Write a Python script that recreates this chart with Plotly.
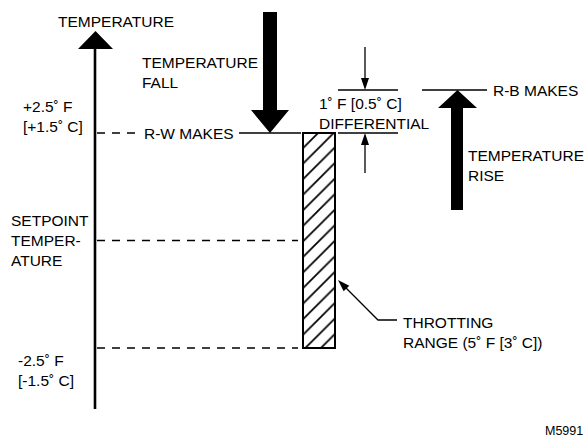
import math
import plotly.graph_objects as go

# ---- data (degrees F relative to setpoint) ----
setpoint_f = 0.0
throttling_range_f = 5.0          # 5 F [3 C]
differential_f = 1.0              # 1 F [0.5 C]
level_values = [2.5, 0.0, -2.5]   # +2.5 F, setpoint, -2.5 F
level_labels = ["+2.5˚ F<br>[+1.5˚ C]", "SETPOINT<br>TEMPER-<br>ATURE", "-2.5˚ F<br>[-1.5˚ C]"]

upper_f = setpoint_f + throttling_range_f / 2     # R-W makes
lower_f = setpoint_f - throttling_range_f / 2
rb_f = upper_f + differential_f                   # R-B makes

# ---- layout helpers ----
W, H = 587, 438
PX_PER_F = 43.0
Y0_PX = 240.5
def fy(px):
    return (Y0_PX - px) / PX_PER_F
def px_of(f):
    return Y0_PX - f * PX_PER_F

FONT = "Liberation Sans, Arial, Helvetica, sans-serif"
FS = 15.5
BLACK = "#000000"

fig = go.Figure()

# throttling range bar (hatched)
fig.add_trace(go.Bar(
    x=[319], y=[throttling_range_f], base=[lower_f], width=[32],
    marker=dict(color="white", line=dict(color=BLACK, width=2),
                pattern=dict(shape="/", fgcolor=BLACK, bgcolor="white", fgopacity=1,
                             size=11, solidity=0.16)),
    hoverinfo="skip"))

dash = "8px,7px"
# dashed level lines
dash_ends = [135, 298, 298]
for lvl, xe in zip(level_values, dash_ends):
    fig.add_trace(go.Scatter(x=[97, xe], y=[lvl, lvl], mode="lines",
                             line=dict(color=BLACK, width=1.4, dash=dash), hoverinfo="skip"))

# solid make lines
solid_segments = [((239, 301), upper_f), ((338, 398), upper_f), ((338, 398), rb_f), ((422, 487), rb_f)]
for (x0, x1), lvl in solid_segments:
    fig.add_trace(go.Scatter(x=[x0, x1], y=[lvl, lvl], mode="lines",
                             line=dict(color=BLACK, width=1.6), hoverinfo="skip"))

shapes = []
def path(pts, fill=True, width=1.0):
    d = "M " + " L ".join(f"{x},{y}" for x, y in pts) + (" Z" if fill else "")
    return dict(type="path", path=d, xref="x", yref="y",
                fillcolor=BLACK if fill else None,
                line=dict(color=BLACK, width=width if not fill else 0))

# vertical temperature axis
shapes.append(dict(type="line", xref="x", yref="y", x0=95, x1=95, y0=fy(409), y1=fy(48),
                   line=dict(color=BLACK, width=2.6)))
shapes.append(path([(78, fy(49)), (113, fy(49)), (95.5, fy(31))]))

# temperature fall arrow
tip_y = px_of(upper_f)
shapes.append(path([(263, fy(12)), (277, fy(12)), (277, fy(110)), (289, fy(110)),
                    (270, fy(tip_y)), (251, fy(110)), (263, fy(110))]))
# temperature rise arrow
tip_y = px_of(rb_f)
shapes.append(path([(451, fy(210)), (463, fy(210)), (463, fy(108)), (477, fy(108)),
                    (457.5, fy(tip_y)), (438, fy(108)), (451, fy(108))]))

# small differential arrows
top_px, bot_px = px_of(rb_f), px_of(upper_f)
shapes.append(dict(type="line", xref="x", yref="y", x0=365, x1=365, y0=fy(47), y1=fy(top_px - 10),
                   line=dict(color=BLACK, width=1.3)))
shapes.append(path([(361, fy(top_px - 12)), (369, fy(top_px - 12)), (365, fy(top_px))]))
shapes.append(dict(type="line", xref="x", yref="y", x0=365, x1=365, y0=fy(173), y1=fy(bot_px + 10),
                   line=dict(color=BLACK, width=1.3)))
shapes.append(path([(361, fy(bot_px + 12)), (369, fy(bot_px + 12)), (365, fy(bot_px))]))

# throttling range pointer
tip = (338, 280)
elbow = (378, 320)
end = (397, 320)
dx, dy = elbow[0] - tip[0], elbow[1] - tip[1]
L = math.hypot(dx, dy)
ux, uy = dx / L, dy / L
bx, by = tip[0] + 12 * ux, tip[1] + 12 * uy
shapes.append(path([(bx - 7 * ux, fy(by - 7 * uy)), (elbow[0], fy(elbow[1])), (end[0], fy(end[1]))],
                   fill=False, width=1.3))
shapes.append(path([(tip[0], fy(tip[1])), (bx - 4 * uy, fy(by + 4 * ux)), (bx + 4 * uy, fy(by - 4 * ux))]))

annotations = []
def label(text, x, ypx, xanchor="left", size=FS, align="left"):
    annotations.append(dict(text=text, x=x, y=fy(ypx), xref="x", yref="y", showarrow=False,
                            xanchor=xanchor, yanchor="middle", align=align,
                            font=dict(family=FONT, size=size, color=BLACK)))

label("TEMPERATURE", 116, 21, xanchor="center", align="center")
label("TEMPERATURE<br>FALL", 140, 72)
label(level_labels[0], 21, px_of(level_values[0]) - 17)
label(level_labels[1], 9, px_of(level_values[1]))
label(level_labels[2], 16, px_of(level_values[2]) + 22)
label("R-W MAKES", 142, px_of(upper_f))
label("1˚ F [0.5˚ C]<br>DIFFERENTIAL", 317, 113)
label("R-B MAKES", 491, px_of(rb_f))
label("TEMPERATURE<br>RISE", 466, 165)
label("THROTTING<br>RANGE (5˚ F [3˚ C])", 401, 332)
label("M5991", 543, 431, size=12.5)

fig.update_layout(
    width=W, height=H, margin=dict(l=0, r=0, t=0, b=0),
    paper_bgcolor="white", plot_bgcolor="white", showlegend=False,
    xaxis=dict(range=[0, W], visible=False, fixedrange=True),
    yaxis=dict(range=[fy(H), fy(0)], visible=False, fixedrange=True),
    shapes=shapes, annotations=annotations, bargap=0,
)

fig.write_html("out.html", post_script="document.body.style.margin='0';",
               config={"displayModeBar": False})
